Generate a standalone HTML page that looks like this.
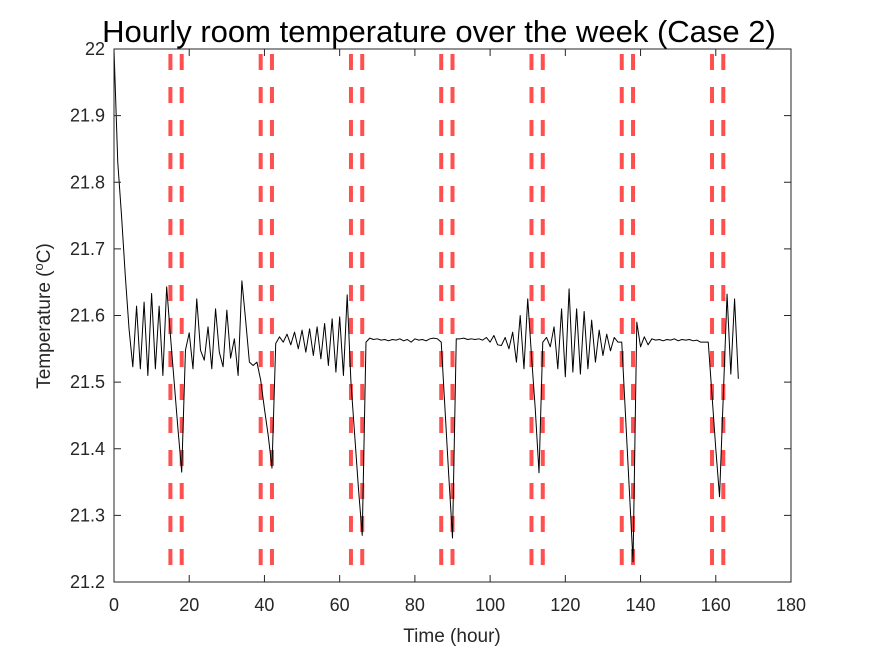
<!DOCTYPE html>
<html><head><meta charset="utf-8"><style>
body{margin:0;background:#fff;}
svg{display:block;font-family:"Liberation Sans",Arial,sans-serif;}
</style></head><body>
<svg id="chart" width="875" height="656" xmlns="http://www.w3.org/2000/svg">
<rect width="875" height="656" fill="#fff"/>
<text x="439" y="42" font-size="31" text-anchor="middle" fill="#000">Hourly room temperature over the week (Case 2)</text>
<g id="grid"></g>
<g id="marks"></g>
<rect x="114" y="49" width="677" height="533" fill="none" stroke="#262626" stroke-width="1"/>
<g id="axes"></g>
<text x="452" y="642" font-size="19" text-anchor="middle" fill="#262626">Time (hour)</text>
<text transform="translate(50,316) rotate(-90)" font-size="19" text-anchor="middle" fill="#262626">Temperature (<tspan font-size="13" dy="-7">o</tspan><tspan dy="7">C)</tspan></text>
</svg>
<script>
const temps = [22.0,21.83,21.75,21.66,21.58,21.523,21.614,21.52,21.62,21.51,21.633,21.52,21.614,21.51,21.643,21.57,21.5,21.43,21.365,21.548,21.574,21.52,21.625,21.548,21.533,21.583,21.52,21.61,21.545,21.523,21.608,21.536,21.565,21.51,21.652,21.593,21.53,21.525,21.53,21.503,21.46,21.42,21.371,21.558,21.568,21.56,21.572,21.556,21.575,21.55,21.578,21.545,21.58,21.54,21.583,21.535,21.588,21.525,21.595,21.515,21.598,21.51,21.631,21.5,21.42,21.34,21.27,21.56,21.566,21.564,21.565,21.563,21.564,21.562,21.564,21.563,21.565,21.562,21.564,21.56,21.565,21.563,21.564,21.562,21.565,21.566,21.565,21.56,21.46,21.36,21.266,21.565,21.565,21.566,21.564,21.565,21.564,21.565,21.563,21.567,21.56,21.57,21.556,21.555,21.567,21.55,21.575,21.53,21.6,21.52,21.625,21.54,21.46,21.364,21.56,21.567,21.553,21.583,21.52,21.61,21.508,21.64,21.515,21.61,21.512,21.606,21.52,21.593,21.53,21.578,21.54,21.572,21.547,21.567,21.56,21.56,21.45,21.34,21.23,21.59,21.553,21.568,21.556,21.565,21.563,21.564,21.562,21.564,21.563,21.565,21.562,21.564,21.563,21.564,21.562,21.563,21.56,21.56,21.56,21.48,21.40,21.328,21.48,21.632,21.512,21.625,21.505];
const eventHours = [15,18,39,42,63,66,87,90,111,114,135,138,159,162];
const xTicks = [0,20,40,60,80,100,120,140,160,180];
const yTicks = [21.2,21.3,21.4,21.5,21.6,21.7,21.8,21.9,22];
const xMin=0,xMax=180,yMin=21.2,yMax=22;
const L=114,R=791,T=49,B=582;
const NS="http://www.w3.org/2000/svg";
function sx(v){return L+(v-xMin)/(xMax-xMin)*(R-L);}
function sy(v){return B-(v-yMin)/(yMax-yMin)*(B-T);}
function mk(tag,attrs,parent){const e=document.createElementNS(NS,tag);for(const k in attrs)e.setAttribute(k,attrs[k]);parent.appendChild(e);return e;}
const grid=document.getElementById('grid'),marks=document.getElementById('marks'),axes=document.getElementById('axes');
eventHours.forEach(h=>{
  const l=mk('line',{x1:sx(h),x2:sx(h),y1:T+5,y2:B,stroke:'#ff3c3c','stroke-opacity':'0.9','stroke-width':4,'stroke-dasharray':'16 17'},grid);
  
  
});
const pts=temps.map((v,i)=>sx(i).toFixed(2)+','+sy(v).toFixed(2)).join(' ');
const pl=mk('polyline',{points:pts,fill:'none',stroke:'#000','stroke-width':1,'stroke-linejoin':'round'},marks);


xTicks.forEach(t=>{
  const x=sx(t);
  const tk=mk('path',{d:`M${x},${B}v-7M${x},${T}v7`,stroke:'#262626','stroke-width':1},axes);
  
  
  const tx=mk('text',{x:x,y:B+29,'font-size':18,'text-anchor':'middle',fill:'#262626'},axes);
  tx.textContent=t;
  
  
});
yTicks.forEach(t=>{
  const y=sy(t);
  const tk=mk('path',{d:`M${L},${y}h7M${R},${y}h-7`,stroke:'#262626','stroke-width':1},axes);
  
  
  const tx=mk('text',{x:L-9,y:y+6,'font-size':18,'text-anchor':'end',fill:'#262626'},axes);
  tx.textContent=(Math.round(t*10)/10).toString();
  
  
});
</script>
</body></html>
